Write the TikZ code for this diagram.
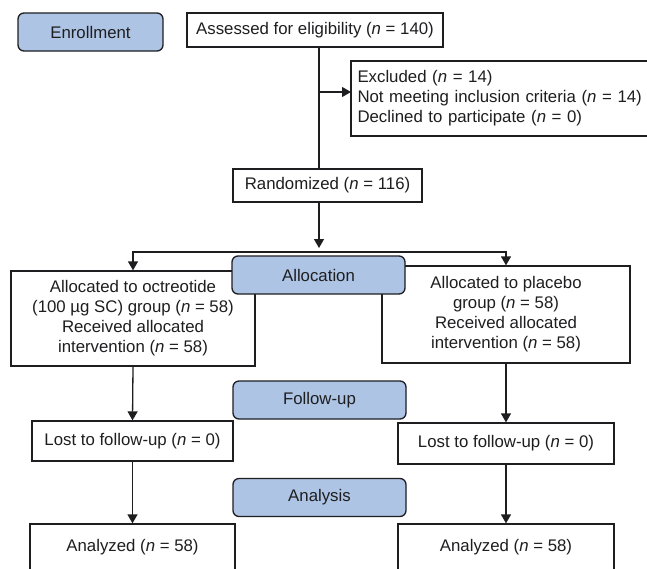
\documentclass[tikz,border=0pt]{standalone}
\usepackage{fontspec}
\setmainfont{Liberation Sans}
\usepackage{tikz}
\usetikzlibrary{arrows.meta,positioning,calc}
\definecolor{phaseblue}{RGB}{174,196,228}
\definecolor{inkgray}{RGB}{30,30,32}

\begin{document}
\begin{tikzpicture}[x=1pt, y=-1pt,
  phase/.style={draw=inkgray, rounded corners=6pt, fill=phaseblue, line width=1.3pt,
                minimum width=173pt, minimum height=38pt, inner sep=0pt,
                font=\fontsize{16.8pt}{20pt}\selectfont, text=inkgray},
  stagebox/.style={draw=inkgray, fill=white, line width=1.3pt, align=center,
                   inner sep=0pt, font=\fontsize{16.8pt}{20pt}\selectfont, text=inkgray},
  flow/.style={draw=inkgray, line width=1.3pt, -{Triangle[length=9pt,width=10pt]}},
  trunk/.style={draw=inkgray, line width=1.3pt}
]
\useasboundingbox (0,0) rectangle (647,568);

\node[phase] (enroll) at (90.5,32) [minimum width=145pt] {Enrollment};
\node[stagebox, minimum width=256pt, minimum height=34pt] (assess) at (315,30)
  {Assessed for eligibility (\textit{n} = 140)};
\node[stagebox, minimum width=299pt, minimum height=75pt, text width=286pt,
      inner xsep=6.5pt, align=left]
  (excl) at (500.5,98.5)
  {Excluded (\textit{n} = 14)\\Not meeting inclusion criteria (\textit{n} = 14)\\Declined to participate (\textit{n} = 0)};
\node[stagebox, minimum width=189pt, minimum height=33pt] (rand) at (327.5,185.5)
  {Randomized (\textit{n} = 116)};

\node[stagebox, minimum width=244pt, minimum height=95pt] (allocL) at (133,318.5)
  {Allocated to octreotide\\(100 µg SC) group (\textit{n} = 58)\\Received allocated\\intervention (\textit{n} = 58)};
\node[stagebox, minimum width=248pt, minimum height=97pt] (allocR) at (506,314.5)
  {Allocated to placebo\\group (\textit{n} = 58)\\Received allocated\\intervention (\textit{n} = 58)};

\node[stagebox, minimum width=201pt, minimum height=40pt] (lostL) at (132.5,441)
  {Lost to follow-up (\textit{n} = 0)};
\node[stagebox, minimum width=216pt, minimum height=41pt] (lostR) at (506,443.5)
  {Lost to follow-up (\textit{n} = 0)};

\node[stagebox, minimum width=205pt, minimum height=46pt] (anaL) at (132.5,547)
  {Analyzed (\textit{n} = 58)};
\node[stagebox, minimum width=216pt, minimum height=46pt] (anaR) at (506,547)
  {Analyzed (\textit{n} = 58)};

\node[phase] (alloc) at (318.5,275) {Allocation};
\node[phase] (follow) at (319.5,400) {Follow-up};
\node[phase] (analysis) at (319.5,497.5) {Analysis};

\coordinate (split) at (319,252);
\coordinate (exclin) at (351,92);

\draw[trunk] (assess.south -| split) -- (rand.north -| split);
\draw[flow] (exclin -| split) -- (exclin);
\draw[flow] (rand.south -| split) -- ($(split)+(0,-4)$);
\draw[flow] (split) -| (allocL.north);
\draw[flow] (split) -| (allocR.north);
\draw[flow] (allocL.south) -- (lostL.north);
\draw[flow] (allocR.south) -- (lostR.north);
\draw[flow] (lostL.south) -- (anaL.north);
\draw[flow] (lostR.south) -- (anaR.north);
\end{tikzpicture}
\end{document}
